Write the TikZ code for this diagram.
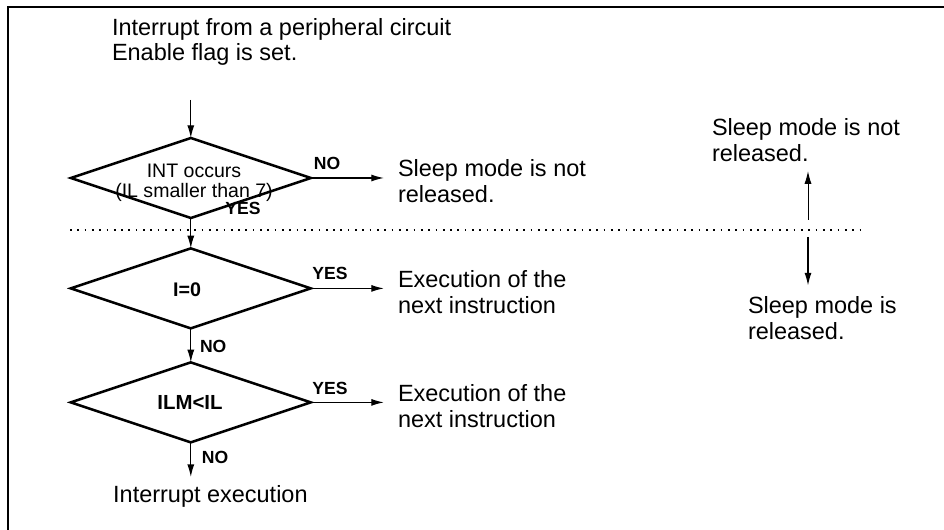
\documentclass[tikz,border=0pt]{standalone}
\usepackage{fontspec}
\setmainfont{Liberation Sans}
\usetikzlibrary{shapes.geometric,arrows.meta}
\begin{document}
\begin{tikzpicture}[>={Latex[length=9pt,width=5pt]},
  every node/.style={font=\fontsize{16.7}{18}\selectfont, inner sep=0pt, outer sep=0pt},
  decision/.style={diamond, draw, line width=1.8pt, minimum width=6cm, minimum height=2cm},
  cond/.style={font=\fontsize{13.9}{14.2}\selectfont, align=center},
  yesno/.style={font=\fontsize{12.5}{14}\selectfont\bfseries},
  msg/.style={align=left, anchor=west},
  flow/.style={->, line width=0.9pt}]
  \useasboundingbox (0,0) rectangle (23.6,13.25);
  \draw[line width=1.5pt] (0.2,0) -- (0.2,13.075) -- (23.6,13.075);

  \node[msg] (src) at (2.8,12.2) {Interrupt from a peripheral circuit\\Enable flag is set.};
  \coordinate (in) at (4.77,10.75);

  \node[decision] (d1) at (4.77,8.8) {};
  \node[cond] (c1) at (4.85,8.68) {INT occurs\\(IL smaller than 7)};
  \node[decision] (d2) at (4.77,6.04) {};
  \node[cond, font=\fontsize{14}{15}\selectfont\bfseries] (c2) at (4.675,6.0) {I=0};
  \node[decision] (d3) at (4.77,3.19) {};
  \node[cond, font=\fontsize{14.5}{15}\selectfont\bfseries] (c3) at (4.75,3.2) {ILM<IL};

  \node[msg] (notrel) at (9.95,8.725) {Sleep mode is not\\released.};
  \node[msg] (exec1) at (9.95,5.95) {Execution of the\\next instruction};
  \node[msg] (exec2) at (9.95,3.1) {Execution of the\\next instruction};
  \node (fin) at (5.26,0.85) {Interrupt execution};

  \draw[flow] (in) -- (d1.north);
  \draw[flow] (d1.south) -- (d2.north);
  \draw[flow] (d2.south) -- (d3.north);
  \draw[flow, shorten >=5.7pt] (d3.south) -- (d3.south |- fin.north);
  \draw[flow, shorten >=10pt] (d1.east) -- (d1.east -| notrel.west);
  \draw[flow, shorten >=10pt] (d2.east) -- (d2.east -| exec1.west);
  \draw[flow, shorten >=10pt] (d3.east) -- (d3.east -| exec2.west);

  \node[yesno] (no1) at (8.175,9.175) {NO};
  \node[yesno] (yes1) at (6.075,8.05) {YES};
  \node[yesno] (yes2) at (8.25,6.425) {YES};
  \node[yesno] (no2) at (5.33,4.58) {NO};
  \node[yesno] (yes3) at (8.25,3.55) {YES};
  \node[yesno] (no3) at (5.375,1.825) {NO};

  \draw[line width=0.8pt, dash pattern=on 1.2pt off 4pt] (1.75,7.5) -- (21.58,7.5);

  \node[msg] (stay) at (17.8,9.75) {Sleep mode is not\\released.};
  \node[msg] (wake) at (18.7,5.3) {Sleep mode is\\released.};
  \coordinate (up) at (20.2,7.75);
  \coordinate (down) at (20.2,7.325);
  \draw[flow, line width=0.7pt, shorten >=7pt] (up) -- (up |- stay.south);
  \draw[flow, shorten >=8pt] (down) -- (down |- wake.north);
\end{tikzpicture}
\end{document}
